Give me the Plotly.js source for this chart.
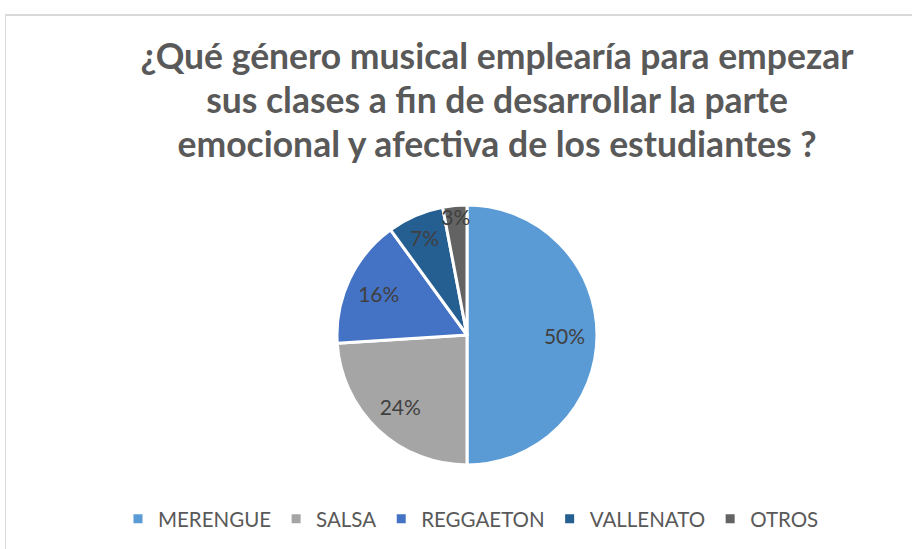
<!DOCTYPE html>
<html>
<head>
<meta charset="utf-8">
<script src="https://cdn.plot.ly/plotly-3.0.1.min.js"></script>
<style>
html,body{margin:0;padding:0;background:#fff;}
#chart{position:absolute;left:0;top:0;width:912px;height:549px;}
#frame{position:absolute;left:5px;top:14px;width:907px;height:535px;border-left:1px solid #d9d9d9;border-top:2px solid #d9d9d9;pointer-events:none;}
</style>
</head>
<body>
<div id="chart"></div>
<div id="frame"></div>
<script>
const categories = ["MERENGUE", "SALSA", "REGGAETON", "VALLENATO", "OTROS"];
const values = [50, 24, 16, 7, 3];
const colors = ["#5B9BD5", "#A5A5A5", "#4472C4", "#255E91", "#636363"];
const titleLines = [
  "¿Qué género musical emplearía para empezar",
  "sus clases a fin de desarrollar la parte",
  "emocional y afectiva de los estudiantes ?"
];

const W = 912, H = 549;
const FONT = "Lato, 'Open Sans', sans-serif";
const pieDomain = {x: [337 / W, 597 / W], y: [(H - 465) / H, (H - 205) / H]};

const pie = {
  type: "pie",
  labels: categories,
  values: values,
  sort: false,
  direction: "clockwise",
  rotation: 0,
  marker: {colors: colors, line: {color: "#ffffff", width: 3}},
  textinfo: "none",
  domain: pieDomain,
  hoverinfo: "label+percent"
};

// transparent ring carrying the percentage labels at mid-radius of each slice
const labelRing = {
  type: "pie",
  labels: categories,
  values: values,
  sort: false,
  direction: "clockwise",
  rotation: 0,
  hole: 0.5,
  showlegend: false,
  marker: {colors: categories.map(() => "rgba(0,0,0,0)"), line: {width: 0}},
  textinfo: "percent",
  texttemplate: "%{percent:.0%}",
  textposition: "inside",
  insidetextorientation: "horizontal",
  textfont: {family: FONT, size: 21, color: "#404040"},
  domain: pieDomain,
  hoverinfo: "skip"
};

const layout = {
  width: W, height: H,
  margin: {l: 0, r: 0, t: 0, b: 0},
  paper_bgcolor: "#ffffff",
  plot_bgcolor: "#ffffff",
  font: {family: FONT, color: "#595959"},
  uniformtext: {mode: "show", minsize: 21},
  title: {
    text: titleLines.map(t => '<span style="font-size:35.5px">' + t + '</span>').join("<br>"),
    font: {family: FONT, size: 34, color: "#595959", weight: 700},
    x: 497 / W, xanchor: "center",
    y: (H - 69) / H, yanchor: "top"
  },
  showlegend: true,
  legend: {
    orientation: "h",
    x: 471 / W, xanchor: "center",
    y: (H - 519) / H, yanchor: "middle",
    font: {family: FONT, size: 20.5, color: "#595959"},
    traceorder: "normal",
    itemwidth: 30
  }
};

Plotly.newPlot("chart", [pie, labelRing], layout, {displayModeBar: false, staticPlot: true});
</script>
</body>
</html>
